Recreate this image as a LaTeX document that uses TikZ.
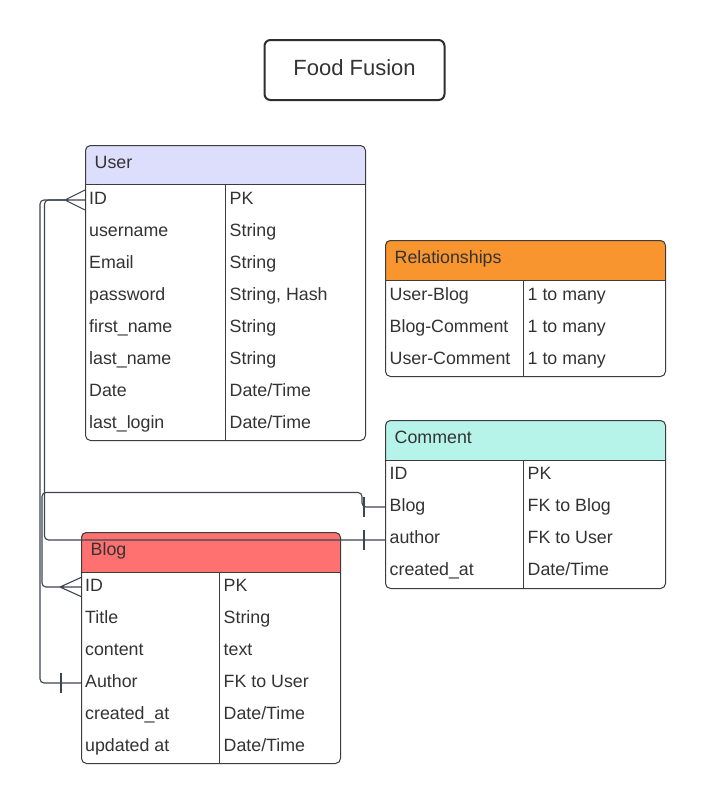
\documentclass[tikz,border=0pt]{standalone}
\usepackage{fontspec}
\setmainfont{Liberation Sans}
\usetikzlibrary{calc}
\definecolor{ink}{HTML}{333333}
\definecolor{edge}{HTML}{3C3C3C}
\definecolor{wire}{HTML}{3E4452}
\definecolor{userhd}{HTML}{DDDDFC}
\definecolor{relhd}{HTML}{F8952F}
\definecolor{comhd}{HTML}{B6F4EA}
\definecolor{bloghd}{HTML}{FF7070}
\tikzset{
  cell/.style={anchor=base west, inner sep=0pt, text=ink, font=\fontsize{17.8}{20}\selectfont},
  frame/.style={draw=edge, line width=1pt, rounded corners=5pt},
  rule/.style={draw=edge, line width=1pt},
  wireline/.style={draw=wire, line width=1.1pt, rounded corners=4pt},
  tick/.style={draw=wire, line width=1.1pt}
}
% #1 name, #2 left, #3 top, #4 right, #5 header bottom, #6 bottom, #7 divider, #8 color, #9 title
\newcommand\ertable[9]{%
  \begin{scope}
    \clip[rounded corners=5pt] (#2,#3) rectangle (#4,#6);
    \fill[#8] (#2,#3) rectangle (#4,#5);
  \end{scope}
  \node[frame, inner sep=0pt, anchor=north west, minimum width={#4-#2}, minimum height={#6-#3}] (#1) at (#2,#3) {};
  \draw[rule] (#2,#5) -- (#4,#5);
  \draw[rule] (#7,#5) -- (#7,#6);
  \node[cell] (#1-title) at ({#2+9.5},{(#3+#5)/2+3.6}) {#9};
}
\begin{document}
\begin{tikzpicture}[x=1pt,y=-1pt]
\useasboundingbox[fill=white] (0,0) rectangle (705,804);

% title
\node[draw=ink!90!black, line width=2pt, rounded corners=6pt, minimum width=180pt, minimum height=60pt, inner sep=0pt] (title) at (354.5,70) {};
\node[anchor=base, inner sep=0pt, text=ink, font=\fontsize{22}{26}\selectfont] (titletext) at (354.5,75) {Food Fusion};

% User
\ertable{user}{85}{145}{365}{184}{440}{225}{userhd}{User}
\foreach \a/\b [count=\i from 0] in {ID/PK, username/String, Email/String, password/{String, Hash},
    first\_name/String, last\_name/String, Date/{Date/Time}, last\_login/{Date/Time}}{
  \node[cell] (user-k\i) at (89, 198+32*\i+6.4) {\a};
  \node[cell] (user-v\i) at (229.5, 198+32*\i+6.4) {\b};
}

% Relationships
\ertable{rel}{385}{240}{665}{280}{376}{523}{relhd}{Relationships}
\foreach \a [count=\i from 0] in {User-Blog, Blog-Comment, User-Comment}{
  \node[cell] (rel-k\i) at (389.5, 294+32*\i+6.4) {\a};
  \node[cell] (rel-v\i) at (527.5, 294+32*\i+6.4) {1 to many};
}

% Comment
\ertable{com}{385}{420}{665}{460}{588}{523}{comhd}{Comment}
\foreach \a/\b [count=\i from 0] in {ID/PK, Blog/FK to Blog, author/FK to User, created\_at/{Date/Time}}{
  \node[cell] (com-k\i) at (389.5, 473+32*\i+6.4) {\a};
  \node[cell] (com-v\i) at (527.5, 473+32*\i+6.4) {\b};
}

% Blog
\ertable{blog}{81}{532}{340}{572}{763}{219}{bloghd}{Blog}
\foreach \a/\b [count=\i from 0] in {ID/PK, Title/String, content/text, Author/FK to User,
    created\_at/{Date/Time}, updated at/{Date/Time}}{
  \node[cell] (blog-k\i) at (85, 585+32*\i+6.4) {\a};
  \node[cell] (blog-v\i) at (223.5, 585+32*\i+6.4) {\b};
}

% connector end points
\coordinate (uid) at (user.west |- 0,200);
\coordinate (ufoot) at (65,200);
\coordinate (bid) at (blog.west |- 0,587);
\coordinate (bfoot) at (60,587);
\coordinate (bauth) at (blog.west |- 0,683);
\coordinate (cblog) at (com.west |- 0,507);
\coordinate (cauth) at (com.west |- 0,540);

% crow's feet
\draw[tick] (ufoot) -- ($(uid)+(0,-10)$) (ufoot) -- (uid) (ufoot) -- ($(uid)+(0,10)$);
\draw[tick] (bfoot) -- ($(bid)+(0,-9.5)$) (bfoot) -- (bid) (bfoot) -- ($(bid)+(0,9.5)$);

% User.ID -> Blog.Author
\draw[wireline] (ufoot) -- (40,200) -- (40,683) -- (bauth);
\draw[tick] (61,673) -- (61,693);
% User.ID -> Comment.author
\draw[wireline] (ufoot) -- (44.5,200) -- (44.5,540) -- (cauth);
\draw[tick] (364,530) -- (364,550);
% Blog.ID -> Comment.Blog
\draw[wireline] (bfoot) -- (42,587) -- (42,492.5) -- (362,492.5) -- (362,507) -- (cblog);
\draw[tick] (364,497) -- (364,517);
\end{tikzpicture}
\end{document}
